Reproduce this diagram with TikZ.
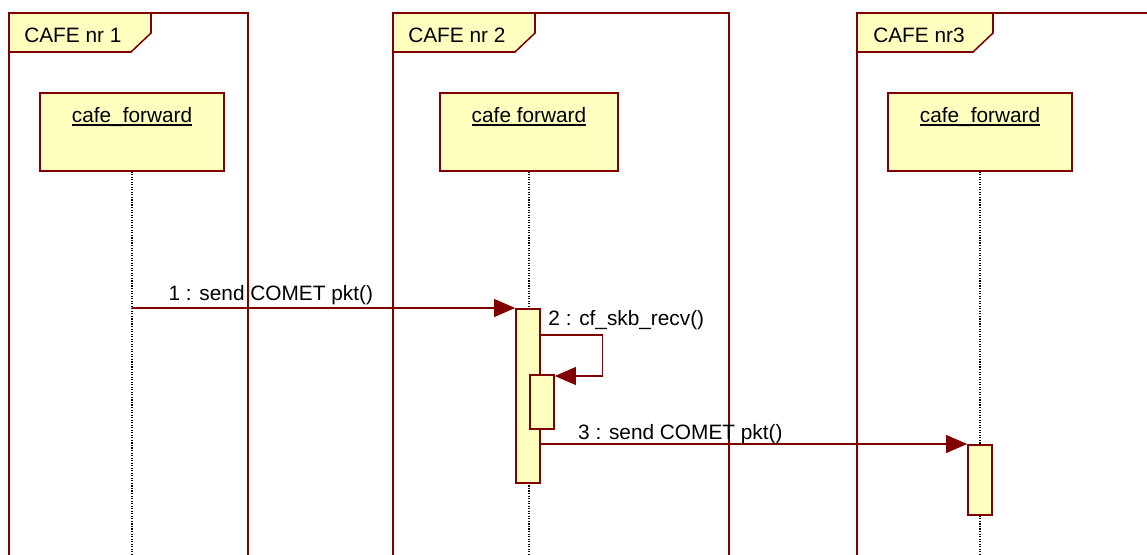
\documentclass[tikz,border=0pt]{standalone}
\usepackage{fontspec}
\setmainfont{Liberation Sans}
\usetikzlibrary{arrows.meta,positioning,calc}
\definecolor{umlborder}{RGB}{128,0,0}
\definecolor{umlfill}{RGB}{255,255,192}
\newcommand{\objname}[1]{\setbox0=\hbox{#1}\makebox[0pt][l]{\rule[-0.15em]{\wd0}{0.07em}}\box0}

\begin{document}
\begin{tikzpicture}[x=0.025cm,y=-0.025cm,
  every node/.style={font=\fontsize{14.8}{17}\selectfont},
  frame/.style={draw=umlborder,line width=1.1pt},
  tab/.style={draw=umlborder,fill=umlfill,line width=1.1pt},
  head/.style={draw=umlborder,fill=umlfill,line width=1.1pt,minimum width=4.6cm,
    inner sep=0pt,text height=0.75cm,text depth=1.2cm,anchor=north},
  act/.style={draw=umlborder,fill=umlfill,line width=1.1pt,minimum width=0.6cm,
    inner sep=0pt,anchor=north},
  lifeline/.style={densely dotted,line width=0.8pt,black},
  msg/.style={draw=umlborder,line width=0.9pt,-{Triangle[length=0.53cm,width=0.45cm]}},
  lbl/.style={anchor=base west,inner sep=0pt}]
  \clip (0,0) rectangle (1147,554);

  % frames
  \draw[frame] (9,570) |- (248,13) -- (248,570);
  \draw[tab] (9,13) -- (151,13) -- (151,33) -- (131,52) -- (9,52) -- cycle;
  \node[lbl] (f1) at (24,42) {CAFE nr 1};

  \draw[frame] (393,570) |- (729,13) -- (729,570);
  \draw[tab] (393,13) -- (535,13) -- (535,33) -- (515,52) -- (393,52) -- cycle;
  \node[lbl] (f2) at (408,42) {CAFE nr 2};

  \draw[frame] (857,570) |- (1170,13);
  \draw[tab] (857,13) -- (993,13) -- (993,33) -- (973,52) -- (857,52) -- cycle;
  \node[lbl] (f3) at (873,42) {CAFE nr3};

  % objects and lifelines
  \node[head] (h1) at (132,92) {\objname{cafe\_forward}};
  \node[head,minimum width=4.45cm] (h2) at (529,92) {\objname{cafe forward}};
  \node[head] (h3) at (980,92) {\objname{cafe\_forward}};
  \draw[lifeline] (h1.south) -- ++(0,400);
  \draw[lifeline] (h2.south) -- ++(0,400);
  \draw[lifeline] (h3.south) -- ++(0,400);

  % activations
  \node[act,minimum height=4.35cm] (a2) at (528,308) {};
  \node[act,minimum height=1.35cm] (a2s) at (542,374) {};
  \node[act,minimum height=1.75cm] (a3) at (980,444) {};

  % messages
  \draw[msg] (h1.south |- a2.north) -- (a2.north west)
    node[lbl,pos=0,xshift=0.9cm,yshift=0.2cm] {1 : send COMET pkt()};
  \draw[msg] ([yshift=-0.675cm]a2.north east)
    node[lbl,xshift=0.175cm,yshift=0.25cm] {2 : cf\_skb\_recv()}
    -- ++(62,0) |- ([yshift=-0.05cm]a2s.north east);
  \draw[msg] (a2.east |- a3.north) -- (a3.north west)
    node[lbl,pos=0,xshift=0.92cm,yshift=0.125cm] {3 : send COMET pkt()};
\end{tikzpicture}
\end{document}
